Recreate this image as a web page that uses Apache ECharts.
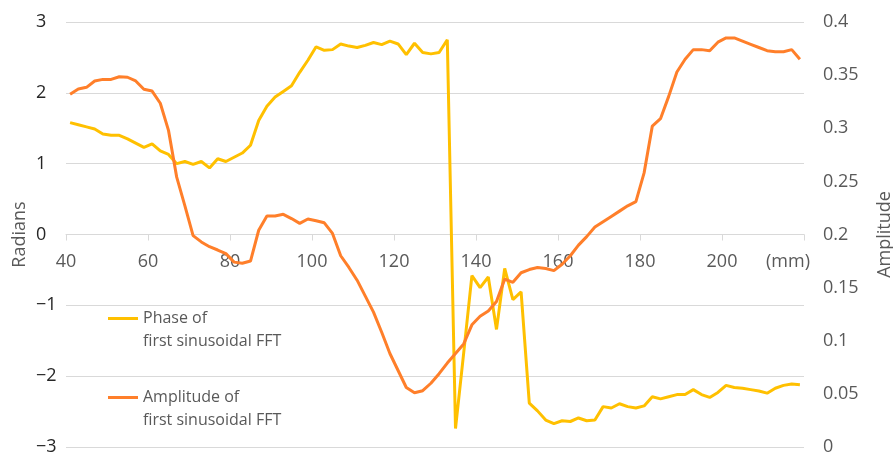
<!DOCTYPE html>
<html>
<head>
<meta charset="utf-8">
<script src="https://cdn.jsdelivr.net/npm/echarts@6/dist/echarts.min.js"></script>
<style>
html,body{margin:0;padding:0;background:#fff;}
#chart{width:893px;height:453px;}
</style>
</head>
<body>
<div id="chart"></div>
<script>
// Position along the sample (mm)
var positionsMm = [41,43,45,47,49,51,53,55,57,59,61,63,65,67,69,71,73,75,77,79,81,83,85,87,89,91,93,95,97,99,
  101,103,105,107,109,111,113,115,117,119,121,123,125,127,129,131,133,135,137,139,141,143,145,147,149,151,153,155,157,159,
  161,163,165,167,169,171,173,175,177,179,181,183,185,187,189,191,193,195,197,199,201,203,205,207,209,211,213,215,217,219];

// Phase of first sinusoidal FFT (radians)
var phaseRad = [1.58,1.55,1.52,1.49,1.42,1.40,1.40,1.35,1.29,1.23,1.28,1.18,1.13,1.00,1.03,0.99,1.03,0.94,1.07,1.03,
  1.09,1.15,1.26,1.61,1.81,1.94,2.02,2.10,2.29,2.46,2.65,2.60,2.61,2.69,2.66,2.64,2.67,2.71,2.68,2.73,
  2.69,2.54,2.70,2.57,2.55,2.57,2.75,-2.74,-1.67,-0.58,-0.75,-0.60,-1.34,-0.48,-0.92,-0.81,-2.38,-2.49,-2.62,-2.67,
  -2.63,-2.64,-2.59,-2.63,-2.62,-2.43,-2.45,-2.39,-2.43,-2.45,-2.42,-2.29,-2.32,-2.29,-2.26,-2.26,-2.19,-2.26,-2.30,-2.23,
  -2.13,-2.16,-2.17,-2.19,-2.21,-2.24,-2.17,-2.13,-2.11,-2.12];

// Amplitude of first sinusoidal FFT
var amplitude = [0.332,0.337,0.3385,0.3445,0.346,0.346,0.3485,0.348,0.3445,0.3367,0.335,0.3235,0.298,0.254,0.227,0.199,0.193,0.1885,0.1854,0.182,
  0.174,0.173,0.175,0.204,0.2174,0.2174,0.219,0.215,0.2105,0.2146,0.213,0.211,0.201,0.180,0.169,0.157,0.142,0.127,0.108,0.088,
  0.072,0.056,0.051,0.053,0.060,0.069,0.079,0.088,0.097,0.115,0.123,0.128,0.137,0.158,0.155,0.164,0.167,0.169,0.168,0.166,
  0.172,0.180,0.190,0.198,0.207,0.212,0.217,0.222,0.227,0.231,0.258,0.302,0.309,0.330,0.353,0.365,0.374,0.374,0.373,0.381,
  0.385,0.385,0.382,0.379,0.376,0.373,0.372,0.372,0.374,0.365];

var seriesNames = ['Phase of\nfirst sinusoidal FFT', 'Amplitude of\nfirst sinusoidal FFT'];
var xUnitLabel = '(mm)';
var leftAxisName = 'Radians';
var rightAxisName = 'Amplitude';

var FONT = "'Open Sans', 'Noto Sans', sans-serif";
var chart = echarts.init(document.getElementById('chart'), null, {renderer: 'canvas'});

function pairs(ys) { return positionsMm.map(function (x, i) { return [x, ys[i]]; }); }

var GRID_TOP = 22, GRID_BOTTOM = 6, CHART_H = 453;
// x axis line sits at radians = 0 (middle of the -3..3 range)
var plotH = CHART_H - GRID_TOP - GRID_BOTTOM;
var xAxisOffset = -plotH / 2;

chart.setOption({
  animation: false,
  backgroundColor: '#ffffff',
  textStyle: {fontFamily: FONT},
  grid: {left: 66, right: 89, top: GRID_TOP, bottom: GRID_BOTTOM, containLabel: false, outerBoundsMode: 'none'},
  legend: {
    orient: 'vertical',
    left: 108,
    top: 284,
    padding: 0,
    itemGap: 10,
    itemWidth: 30,
    itemHeight: 3,
    icon: 'rect',
    selectedMode: false,
    data: seriesNames,
    formatter: function (name) { return '\n' + name; },
    textStyle: {
      color: '#595959', fontSize: 16, fontFamily: FONT, lineHeight: 23
    }
  },
  xAxis: {
    type: 'value',
    min: 40, max: 220, interval: 20,
    offset: xAxisOffset,
    axisLine: {show: true, onZero: false, lineStyle: {color: '#d9d9d9', width: 1}},
    axisTick: {show: true, length: 6, lineStyle: {color: '#d9d9d9'}},
    splitLine: {show: false},
    axisLabel: {
      color: '#595959', fontSize: 18, fontFamily: FONT, margin: 18,
      formatter: function (v) { return v === 220 ? '{u|' + xUnitLabel + '}' : String(v); },
      rich: {
        u: {color: '#595959', fontSize: 18, fontFamily: FONT, padding: [0, 32, 0, 0]}
      }
    }
  },
  yAxis: [{
    type: 'value',
    min: -3, max: 3, interval: 1,
    name: leftAxisName,
    nameLocation: 'middle',
    nameGap: 37,
    nameMoveOverlap: false,
    nameTextStyle: {color: '#595959', fontSize: 18, fontFamily: FONT},
    axisLine: {show: false, onZero: false},
    axisTick: {show: false},
    splitLine: {show: true, lineStyle: {color: '#d9d9d9', width: 1}},
    axisLabel: {
      color: '#262626', fontSize: 18, fontFamily: FONT, margin: 30, align: 'left',
      formatter: function (v) { return v < 0 ? '\u2212' + Math.abs(v) : String(v); }
    }
  }, {
    type: 'value',
    min: 0, max: 0.4, interval: 0.05,
    name: rightAxisName,
    nameLocation: 'middle',
    nameRotate: 90,
    nameGap: 72,
    nameMoveOverlap: false,
    nameTextStyle: {color: '#595959', fontSize: 18, fontFamily: FONT},
    axisLine: {show: false, onZero: false},
    axisTick: {show: false},
    splitLine: {show: false},
    axisLabel: {
      color: '#595959', fontSize: 18, fontFamily: FONT, margin: 19, align: 'left',
      formatter: function (v) { return String(+v.toFixed(2)); }
    }
  }],
  series: [{
    name: seriesNames[0],
    type: 'line',
    yAxisIndex: 0,
    data: pairs(phaseRad),
    showSymbol: false,
    symbol: 'none',
    color: '#FFC000',
    lineStyle: {color: '#FFC000', width: 3}
  }, {
    name: seriesNames[1],
    type: 'line',
    yAxisIndex: 1,
    data: pairs(amplitude),
    showSymbol: false,
    symbol: 'none',
    color: '#FF7F2A',
    lineStyle: {color: '#FF7F2A', width: 3}
  }]
});
</script>
</body>
</html>
